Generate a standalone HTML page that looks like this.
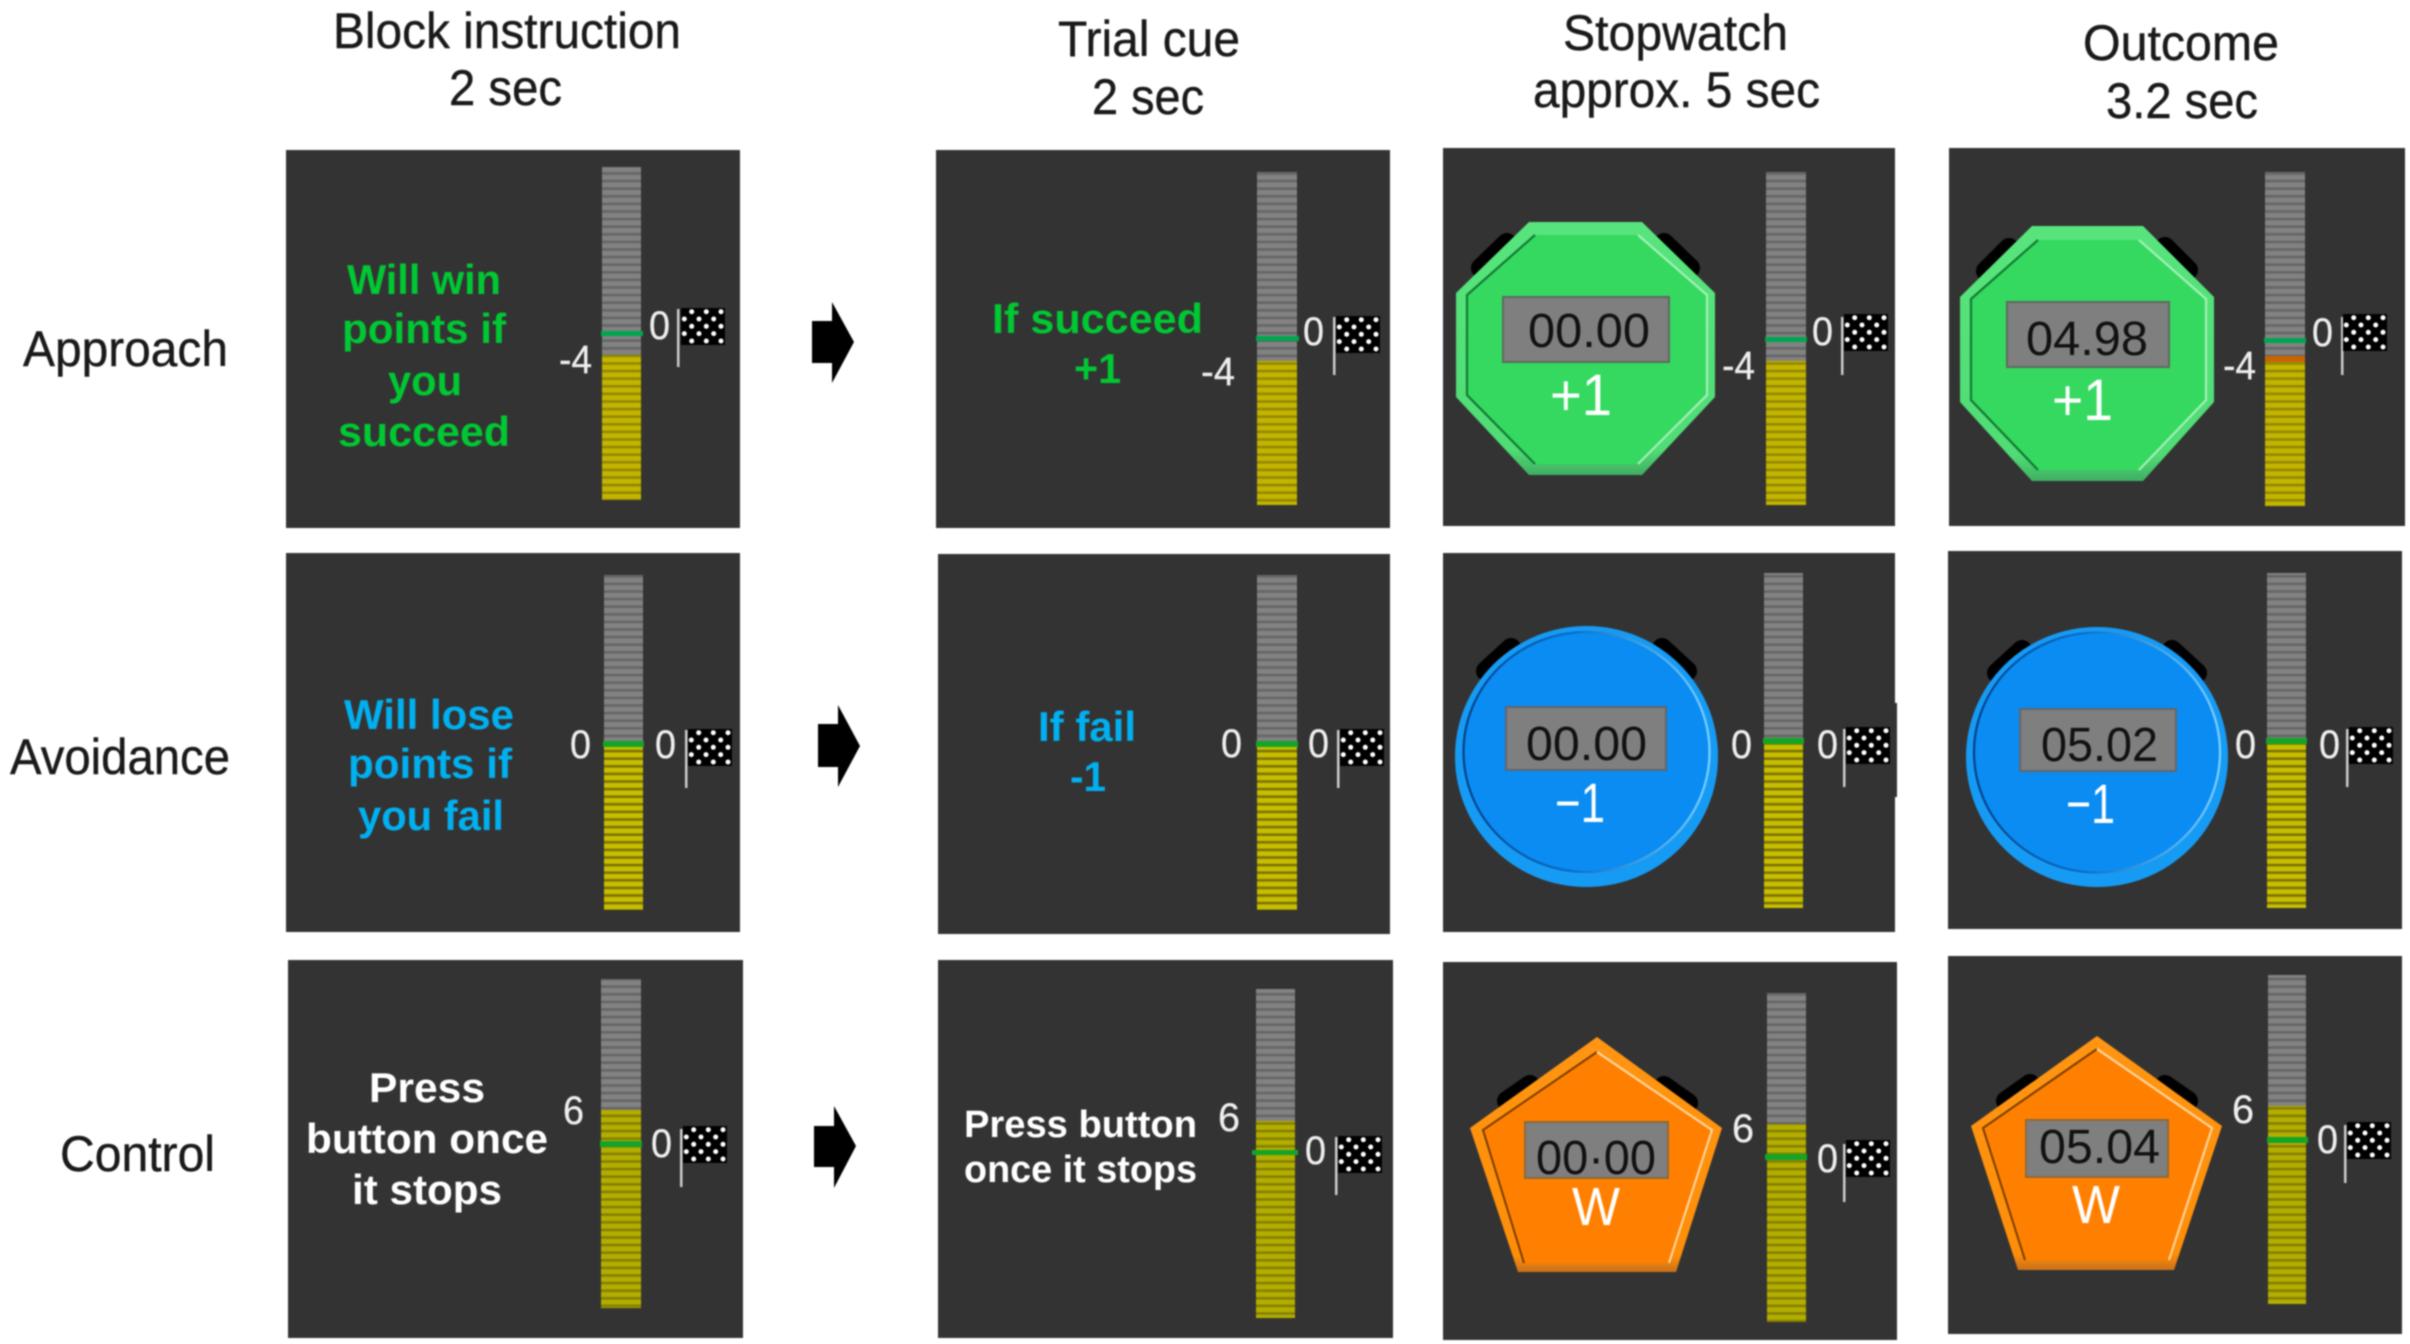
<!DOCTYPE html>
<html lang="en">
<head>
<meta charset="utf-8">
<title>Task diagram</title>
<style>
html,body{margin:0;padding:0;background:#fff;width:2410px;height:1344px;overflow:hidden}
svg{display:block;filter:blur(.7px)}
text{font-family:"Liberation Sans",sans-serif}
.t{font-size:50px;fill:#1a1a1a;stroke:#1a1a1a;stroke-width:.4px}
.b{font-size:42px;font-weight:bold}
.g{fill:#00c832}.c{fill:#00b0f0}.w{fill:#fff}
.n{font-size:40px;fill:#eee;stroke:#eee;stroke-width:.3px}
.d{font-size:48px;fill:#111}
.s{font-size:56px;fill:#fff}
.p{fill:#333}
</style>
</head>
<body>
<svg xmlns="http://www.w3.org/2000/svg" width="2410" height="1344" viewBox="0 0 2410 1344">
<defs>
<pattern id="pg" patternUnits="userSpaceOnUse" width="40" height="7.6"><rect width="40" height="7.6" fill="#828282"/><rect y="5" width="40" height="2.6" fill="#666"/></pattern>
<pattern id="py" patternUnits="userSpaceOnUse" width="40" height="7.6"><rect width="40" height="7.6" fill="#c2b400"/><rect y="5" width="40" height="2.6" fill="#928800"/></pattern>
<pattern id="py2" patternUnits="userSpaceOnUse" width="40" height="7.6"><rect width="40" height="7.6" fill="#c8bd00"/><rect y="5" width="40" height="2.6" fill="#7a7400"/></pattern>
<pattern id="py3" patternUnits="userSpaceOnUse" width="40" height="7.6"><rect width="40" height="7.6" fill="#b2ae00"/><rect y="5" width="40" height="2.6" fill="#857f00"/></pattern>
<g id="flag">
<rect width="44" height="37" fill="#000"/>
<g fill="#fff">
<circle cx="10.7" cy="3.7" r="2.5"/><circle cx="25.3" cy="3.7" r="2.5"/><circle cx="40" cy="3.7" r="2.5"/>
<circle cx="3.3" cy="11" r="2.5"/><circle cx="18" cy="11" r="2.5"/><circle cx="32.7" cy="11" r="2.5"/>
<circle cx="10.7" cy="18.3" r="2.5"/><circle cx="25.3" cy="18.3" r="2.5"/><circle cx="40" cy="18.3" r="2.5"/>
<circle cx="3.3" cy="25.6" r="2.5"/><circle cx="18" cy="25.6" r="2.5"/><circle cx="32.7" cy="25.6" r="2.5"/>
<circle cx="10.7" cy="33" r="2.5"/><circle cx="25.3" cy="33" r="2.5"/><circle cx="40" cy="33" r="2.5"/>
</g>
</g>
<linearGradient id="ring" x1="0" y1="0" x2="1" y2="0"><stop offset="0" stop-color="#063f86"/><stop offset=".45" stop-color="#0a6fc8"/><stop offset="1" stop-color="#7fd0ff"/></linearGradient>
<linearGradient id="gb" x1="0" y1="0" x2="0" y2="1"><stop offset="0" stop-color="#58e47c"/><stop offset=".9" stop-color="#4fdc74"/><stop offset="1" stop-color="#3fae62"/></linearGradient>
<linearGradient id="ob" x1="0" y1="0" x2="0" y2="1"><stop offset="0" stop-color="#ff9512"/><stop offset=".93" stop-color="#ff8e08"/><stop offset="1" stop-color="#c9701a"/></linearGradient>
</defs>

<rect width="2410" height="1344" fill="#fff"/>

<!-- headers -->
<text class="t" x="333" y="48" textLength="348" lengthAdjust="spacingAndGlyphs">Block instruction</text>
<text class="t" x="449" y="105" textLength="113" lengthAdjust="spacingAndGlyphs">2 sec</text>
<text class="t" x="1058" y="56" textLength="182" lengthAdjust="spacingAndGlyphs">Trial cue</text>
<text class="t" x="1092" y="114" textLength="112" lengthAdjust="spacingAndGlyphs">2 sec</text>
<text class="t" x="1563" y="50" textLength="225" lengthAdjust="spacingAndGlyphs">Stopwatch</text>
<text class="t" x="1533" y="107" textLength="287" lengthAdjust="spacingAndGlyphs">approx. 5 sec</text>
<text class="t" x="2083" y="60" textLength="196" lengthAdjust="spacingAndGlyphs">Outcome</text>
<text class="t" x="2106" y="118" textLength="152" lengthAdjust="spacingAndGlyphs">3.2 sec</text>

<!-- row labels -->
<text class="t" x="23" y="366" textLength="205" lengthAdjust="spacingAndGlyphs">Approach</text>
<text class="t" x="10" y="774" textLength="220" lengthAdjust="spacingAndGlyphs">Avoidance</text>
<text class="t" x="60" y="1171" textLength="155" lengthAdjust="spacingAndGlyphs">Control</text>

<!-- arrows -->
<polygon fill="#000" points="812,321 832,321 832,302 854,342 832,383 832,363 812,363"/>
<polygon fill="#000" points="818,724 838,724 838,705 860,746 838,787 838,767 818,767"/>
<polygon fill="#000" points="814,1126 834,1126 834,1106 856,1146 834,1188 834,1167 814,1167"/>

<!-- panels -->
<rect class="p" x="286" y="150" width="454" height="378"/>
<rect class="p" x="936" y="150" width="454" height="378"/>
<rect class="p" x="1443" y="148" width="452" height="378"/>
<rect class="p" x="1949" y="148" width="456" height="378"/>
<rect class="p" x="286" y="553" width="454" height="379"/>
<rect class="p" x="938" y="554" width="452" height="380"/>
<rect class="p" x="1443" y="553" width="452" height="379"/>
<rect class="p" x="1895" y="703" width="2" height="94"/>
<rect class="p" x="1948" y="551" width="454" height="378"/>
<rect class="p" x="288" y="960" width="455" height="378"/>
<rect class="p" x="938" y="960" width="455" height="378"/>
<rect class="p" x="1443" y="962" width="454" height="378"/>
<rect class="p" x="1948" y="956" width="454" height="378"/>

<!-- instructions col1 -->
<text class="b g" x="347" y="294" textLength="154" lengthAdjust="spacingAndGlyphs">Will win</text>
<text class="b g" x="342" y="343" textLength="164" lengthAdjust="spacingAndGlyphs">points if</text>
<text class="b g" x="388" y="395" textLength="74" lengthAdjust="spacingAndGlyphs">you</text>
<text class="b g" x="338" y="446" textLength="172" lengthAdjust="spacingAndGlyphs">succeed</text>

<text class="b c" x="344" y="729" textLength="170" lengthAdjust="spacingAndGlyphs">Will lose</text>
<text class="b c" x="348" y="778" textLength="164" lengthAdjust="spacingAndGlyphs">points if</text>
<text class="b c" x="358" y="830" textLength="146" lengthAdjust="spacingAndGlyphs">you fail</text>

<text class="b w" x="369" y="1102" textLength="116" lengthAdjust="spacingAndGlyphs">Press</text>
<text class="b w" x="306" y="1153" textLength="242" lengthAdjust="spacingAndGlyphs">button once</text>
<text class="b w" x="352" y="1204" textLength="150" lengthAdjust="spacingAndGlyphs">it stops</text>

<!-- cues col2 -->
<text class="b g" x="992" y="333" textLength="211" lengthAdjust="spacingAndGlyphs">If succeed</text>
<text class="b g" x="1074" y="383" textLength="47" lengthAdjust="spacingAndGlyphs">+1</text>
<text class="b c" x="1038" y="741" textLength="98" lengthAdjust="spacingAndGlyphs">If fail</text>
<text class="b c" x="1070" y="791" textLength="36" lengthAdjust="spacingAndGlyphs">-1</text>
<text class="b w" style="font-size:38px" x="964" y="1137" textLength="233" lengthAdjust="spacingAndGlyphs">Press button</text>
<text class="b w" style="font-size:38px" x="964" y="1182" textLength="233" lengthAdjust="spacingAndGlyphs">once it stops</text>

<!-- bars: row 1 -->
<rect x="602" y="167" width="39" height="188" fill="url(#pg)"/><rect x="602" y="355" width="39" height="145" fill="url(#py)"/><rect x="601" y="331" width="42" height="5" fill="#00a650"/>
<rect x="1257" y="172" width="40" height="189" fill="url(#pg)"/><rect x="1257" y="361" width="40" height="144" fill="url(#py)"/><rect x="1256" y="336" width="43" height="5" fill="#00a650"/>
<rect x="1766" y="172" width="40" height="189" fill="url(#pg)"/><rect x="1766" y="361" width="40" height="144" fill="url(#py)"/><rect x="1765" y="337" width="42" height="5" fill="#00a650"/>
<rect x="2265" y="172" width="40" height="190" fill="url(#pg)"/><rect x="2265" y="362" width="40" height="144" fill="url(#py)"/><rect x="2264" y="338" width="42" height="5" fill="#00a650"/><rect x="2265" y="356" width="40" height="6" fill="#c96400"/>
<!-- bars: row 2 -->
<rect x="604" y="575" width="39" height="172" fill="url(#pg)"/><rect x="604" y="747" width="39" height="163" fill="url(#py2)"/><rect x="603" y="741" width="41" height="6" fill="#14a528"/>
<rect x="1257" y="575" width="40" height="172" fill="url(#pg)"/><rect x="1257" y="747" width="40" height="163" fill="url(#py2)"/><rect x="1256" y="741" width="42" height="6" fill="#14a528"/>
<rect x="1764" y="573" width="39" height="171" fill="url(#pg)"/><rect x="1764" y="744" width="39" height="164" fill="url(#py2)"/><rect x="1763" y="738" width="41" height="6" fill="#14a528"/>
<rect x="2267" y="573" width="39" height="171" fill="url(#pg)"/><rect x="2267" y="744" width="39" height="164" fill="url(#py2)"/><rect x="2266" y="738" width="41" height="6" fill="#14a528"/>
<!-- bars: row 3 -->
<rect x="601" y="979" width="40" height="131" fill="url(#pg)"/><rect x="601" y="1110" width="40" height="198" fill="url(#py3)"/><rect x="600" y="1141" width="42" height="6" fill="#14a528"/>
<rect x="1256" y="989" width="39" height="132" fill="url(#pg)"/><rect x="1256" y="1121" width="39" height="197" fill="url(#py3)"/><rect x="1252" y="1150" width="46" height="5" fill="#14a528"/>
<rect x="1767" y="993" width="39" height="131" fill="url(#pg)"/><rect x="1767" y="1124" width="39" height="198" fill="url(#py3)"/><rect x="1765" y="1154" width="42" height="6" fill="#14a528"/>
<rect x="2268" y="975" width="38" height="131" fill="url(#pg)"/><rect x="2268" y="1106" width="38" height="198" fill="url(#py3)"/><rect x="2267" y="1137" width="41" height="6" fill="#14a528"/>

<!-- flags and poles -->
<g fill="#ccc">
<rect x="677" y="309" width="2.5" height="58"/>
<rect x="1333" y="317" width="2.5" height="58"/>
<rect x="1841" y="317" width="2.5" height="58"/>
<rect x="2341" y="317" width="2.5" height="58"/>
<rect x="685" y="730" width="2.5" height="58"/>
<rect x="1337" y="730" width="2.5" height="58"/>
<rect x="1843" y="729" width="2.5" height="58"/>
<rect x="2346" y="729" width="2.5" height="58"/>
<rect x="680" y="1129" width="2.5" height="58"/>
<rect x="1335" y="1137" width="2.5" height="58"/>
<rect x="1843" y="1144" width="2.5" height="58"/>
<rect x="2344" y="1125" width="2.5" height="58"/>
</g>
<use href="#flag" x="681" y="308"/>
<use href="#flag" x="1336" y="316"/>
<use href="#flag" x="1844" y="314"/>
<use href="#flag" x="2343" y="314"/>
<use href="#flag" x="688" y="729"/>
<use href="#flag" x="1340" y="729"/>
<use href="#flag" x="1846" y="727"/>
<use href="#flag" x="2349" y="727"/>
<use href="#flag" x="683" y="1126"/>
<use href="#flag" x="1338" y="1136"/>
<use href="#flag" x="1846" y="1140"/>
<use href="#flag" x="2347" y="1122"/>

<!-- right zeros -->
<text class="n" x="649" y="339" textLength="21" lengthAdjust="spacingAndGlyphs">0</text>
<text class="n" x="1303" y="345" textLength="21" lengthAdjust="spacingAndGlyphs">0</text>
<text class="n" x="1812" y="345" textLength="21" lengthAdjust="spacingAndGlyphs">0</text>
<text class="n" x="2312" y="346" textLength="21" lengthAdjust="spacingAndGlyphs">0</text>
<text class="n" x="655" y="758" textLength="21" lengthAdjust="spacingAndGlyphs">0</text>
<text class="n" x="1308" y="757" textLength="21" lengthAdjust="spacingAndGlyphs">0</text>
<text class="n" x="1817" y="758" textLength="21" lengthAdjust="spacingAndGlyphs">0</text>
<text class="n" x="2319" y="758" textLength="21" lengthAdjust="spacingAndGlyphs">0</text>
<text class="n" x="651" y="1157" textLength="21" lengthAdjust="spacingAndGlyphs">0</text>
<text class="n" x="1305" y="1164" textLength="21" lengthAdjust="spacingAndGlyphs">0</text>
<text class="n" x="1817" y="1172" textLength="21" lengthAdjust="spacingAndGlyphs">0</text>
<text class="n" x="2317" y="1153" textLength="21" lengthAdjust="spacingAndGlyphs">0</text>
<!-- left values -->
<text class="n" x="559" y="373" textLength="33" lengthAdjust="spacingAndGlyphs">-4</text>
<text class="n" x="1201" y="385" textLength="34" lengthAdjust="spacingAndGlyphs">-4</text>
<text class="n" x="1722" y="379" textLength="33" lengthAdjust="spacingAndGlyphs">-4</text>
<text class="n" x="2223" y="379" textLength="33" lengthAdjust="spacingAndGlyphs">-4</text>
<text class="n" x="570" y="758" textLength="21" lengthAdjust="spacingAndGlyphs">0</text>
<text class="n" x="1221" y="757" textLength="21" lengthAdjust="spacingAndGlyphs">0</text>
<text class="n" x="1731" y="758" textLength="21" lengthAdjust="spacingAndGlyphs">0</text>
<text class="n" x="2235" y="758" textLength="21" lengthAdjust="spacingAndGlyphs">0</text>
<text class="n" x="563" y="1124" textLength="21" lengthAdjust="spacingAndGlyphs">6</text>
<text class="n" x="1218" y="1131" textLength="22" lengthAdjust="spacingAndGlyphs">6</text>
<text class="n" x="1732" y="1142" textLength="22" lengthAdjust="spacingAndGlyphs">6</text>
<text class="n" x="2232" y="1123" textLength="22" lengthAdjust="spacingAndGlyphs">6</text>

<!-- watch ears -->
<g stroke="#000" stroke-width="20" stroke-linecap="round" fill="none">
<path d="M1507 243L1481 268M1664 243L1690 268"/>
<path d="M2009 248L1986 271M2165 247L2188 270"/>
<path d="M1511 648L1486 671M1662 648L1687 671"/>
<path d="M2022 650L1997 673M2172 650L2197 673"/>
<path d="M1530 1085L1507 1101M1664 1086L1688 1103"/>
<path d="M2030 1084L2006 1101M2165 1085L2188 1101"/>
</g>

<!-- octagon col 3 -->
<polygon points="1529,222 1642,222 1715,293 1715,397 1642,475 1529,475 1456,397 1456,293" fill="url(#gb)"/>
<polygon points="1535,235 1638,235 1707,295 1707,395 1638,464 1535,464 1467,395 1467,295" fill="#35d960"/>
<polyline points="1535,464 1467,395 1467,295 1535,235" fill="none" stroke="#137a33" stroke-width="2.2"/>
<polyline points="1638,235 1707,295 1707,395 1638,464" fill="none" stroke="#a3f0b4" stroke-width="2.2"/>
<rect x="1503" y="297" width="166" height="65" fill="#7f7f7f" stroke="#5e6a5e" stroke-width="2"/>
<text class="d" x="1528" y="347" textLength="122" lengthAdjust="spacingAndGlyphs">00.00</text>
<text class="s" style="font-size:58px" x="1550" y="415" textLength="62" lengthAdjust="spacingAndGlyphs">+1</text>

<!-- octagon col 4 -->
<polygon points="2032,226 2143,226 2214,297 2214,402 2143,481 2032,481 1960,402 1960,297" fill="url(#gb)"/>
<polygon points="2038,240 2139,240 2206,299 2206,400 2139,470 2038,470 1971,400 1971,299" fill="#35d960"/>
<polyline points="2038,470 1971,400 1971,299 2038,240" fill="none" stroke="#137a33" stroke-width="2.2"/>
<polyline points="2139,240 2206,299 2206,400 2139,470" fill="none" stroke="#a3f0b4" stroke-width="2.2"/>
<rect x="2007" y="302" width="162" height="65" fill="#7f7f7f" stroke="#5e6a5e" stroke-width="2"/>
<text class="d" x="2026" y="355" textLength="122" lengthAdjust="spacingAndGlyphs">04.98</text>
<text class="s" style="font-size:58px" x="2052" y="420" textLength="61" lengthAdjust="spacingAndGlyphs">+1</text>

<!-- circle col 3 -->
<ellipse cx="1586.5" cy="756.5" rx="131.5" ry="130.5" fill="#169bf5"/>
<ellipse cx="1586.5" cy="752" rx="123" ry="120" fill="#0a8cf2" stroke="url(#ring)" stroke-width="2.2"/>
<rect x="1506" y="707" width="160" height="63" fill="#7f7f7f" stroke="#5f6670" stroke-width="2"/>
<text class="d" x="1526" y="760" textLength="121" lengthAdjust="spacingAndGlyphs">00.00</text>
<text class="s" x="1555" y="822" textLength="50" lengthAdjust="spacingAndGlyphs">−1</text>

<!-- circle col 4 -->
<ellipse cx="2097" cy="757" rx="131" ry="130" fill="#169bf5"/>
<ellipse cx="2097" cy="752.5" rx="123" ry="120" fill="#0a8cf2" stroke="url(#ring)" stroke-width="2.2"/>
<rect x="2020" y="709" width="156" height="62" fill="#7f7f7f" stroke="#5f6670" stroke-width="2"/>
<text class="d" x="2041" y="761" textLength="117" lengthAdjust="spacingAndGlyphs">05.02</text>
<text class="s" x="2066" y="823" textLength="49" lengthAdjust="spacingAndGlyphs">−1</text>

<!-- pentagon col 3 -->
<polygon points="1597,1037 1722,1128 1676,1272 1518,1272 1470,1128" fill="url(#ob)"/>
<polygon points="1597,1052 1712,1130 1669,1263 1524,1263 1483,1130" fill="#ff8000"/>
<polyline points="1524,1263 1483,1130 1597,1052" fill="none" stroke="#7a3c00" stroke-width="2"/>
<polyline points="1597,1052 1712,1130 1669,1263" fill="none" stroke="#ffd9a6" stroke-width="2"/>
<rect x="1525" y="1122" width="143" height="56" fill="#7f7f7f" stroke="#8a6a3a" stroke-width="2"/>
<text class="d" x="1536" y="1174" textLength="120" lengthAdjust="spacingAndGlyphs">00·00</text>
<text class="s" style="font-size:54px" x="1572" y="1225" textLength="48" lengthAdjust="spacingAndGlyphs">W</text>

<!-- pentagon col 4 -->
<polygon points="2097,1036 2222,1126 2174,1270 2018,1270 1971,1126" fill="url(#ob)"/>
<polygon points="2097,1049 2212,1128 2169,1260 2025,1260 1983,1128" fill="#ff8000"/>
<polyline points="2025,1260 1983,1128 2097,1049" fill="none" stroke="#7a3c00" stroke-width="2"/>
<polyline points="2097,1049 2212,1128 2169,1260" fill="none" stroke="#ffd9a6" stroke-width="2"/>
<rect x="2026" y="1120" width="142" height="57" fill="#7f7f7f" stroke="#8a6a3a" stroke-width="2"/>
<text class="d" x="2039" y="1163" textLength="121" lengthAdjust="spacingAndGlyphs">05.04</text>
<text class="s" style="font-size:54px" x="2072" y="1223" textLength="48" lengthAdjust="spacingAndGlyphs">W</text>
</svg>
</body>
</html>
